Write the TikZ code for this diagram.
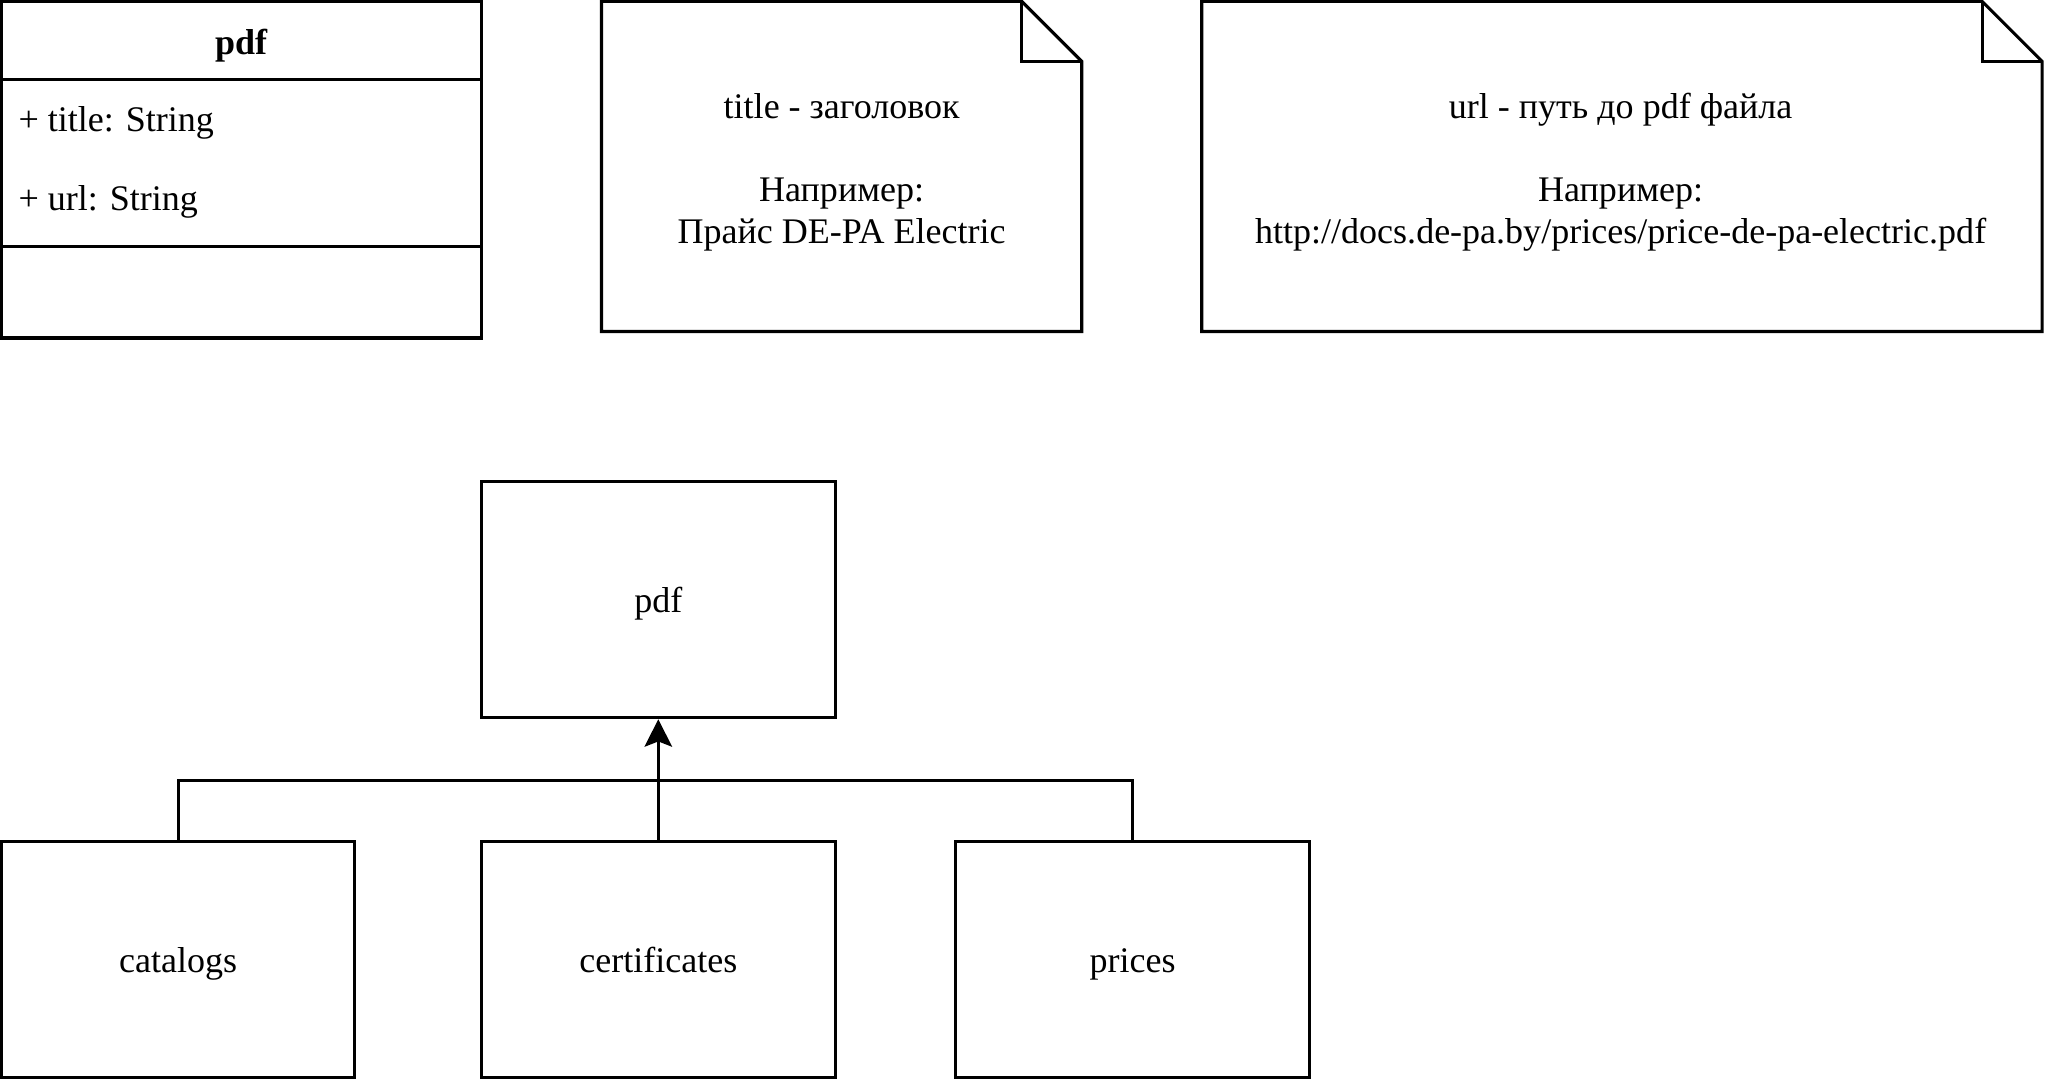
\documentclass[tikz,border=0pt]{standalone}
\usepackage{fontspec}
\setmainfont{Liberation Serif}
\usetikzlibrary{arrows.meta}
\begin{document}
\begin{tikzpicture}[x=1pt,y=-1pt,
  every node/.style={font=\fontsize{27.6}{32}\selectfont},
  ln/.style={line width=2.4pt},
  box/.style={draw,ln,minimum width=271pt,minimum height=181pt,inner sep=0pt,
    text height=22pt,text depth=2pt},
  txt/.style={inner sep=0pt,align=center},
  link/.style={line width=2.4pt}
]
\useasboundingbox (0,0) rectangle (1568,827.6);
% UML class
\node[draw,ln,minimum width=368pt,minimum height=60pt,inner sep=0pt] (clshead) at (185,31) {};
\node[txt,text height=18pt,text depth=6pt] (clstitle) at (185,36) {\textbf{pdf}};
\node[draw,ln,minimum width=368pt,minimum height=128pt,inner sep=0pt] (clsattr) at (185,125) {};
\node[draw,ln,minimum width=368pt,minimum height=70pt,inner sep=0pt] (clsops) at (185,224) {};
\node[txt,anchor=west,text height=18pt,text depth=6pt] (a1) at (14,95) {+ title: String};
\node[txt,anchor=west,text height=18pt,text depth=6pt] (a2) at (14,155) {+ url: String};
% Note 1
\draw[ln,line join=miter] (461,1) -- (783,1) -- (829,47) -- (829,254) -- (461,254) -- cycle;
\draw[ln] (783,1) -- (783,47) -- (829,47);
\node[txt] (note1) at (645,132) {title - заголовок\\[32pt]Например:\\Прайс DE-PA Electric};
% Note 2
\draw[ln,line join=miter] (921,1) -- (1519,1) -- (1565,47) -- (1565,254) -- (921,254) -- cycle;
\draw[ln] (1519,1) -- (1519,47) -- (1565,47);
\node[txt] (note2) at (1242,132) {url - путь до pdf файла\\[32pt]Например:\\http://docs.de-pa.by/prices/price-de-pa-electric.pdf};
% Hierarchy
\node[box] (pdf) at (504.5,459.5) {pdf};
\node[box] (catalogs) at (136.5,735.5) {catalogs};
\node[box] (certificates) at (504.5,735.5) {certificates};
\node[box] (prices) at (868,735.5) {prices};
\coordinate (j) at (504.5,598);
\draw[link] (catalogs.north) |- (j);
\draw[link] (prices.north) |- (j);
\draw[link,-{Stealth[length=21pt,width=21pt,inset=4pt]}] (certificates.north) -- (pdf.south);
\end{tikzpicture}
\end{document}
